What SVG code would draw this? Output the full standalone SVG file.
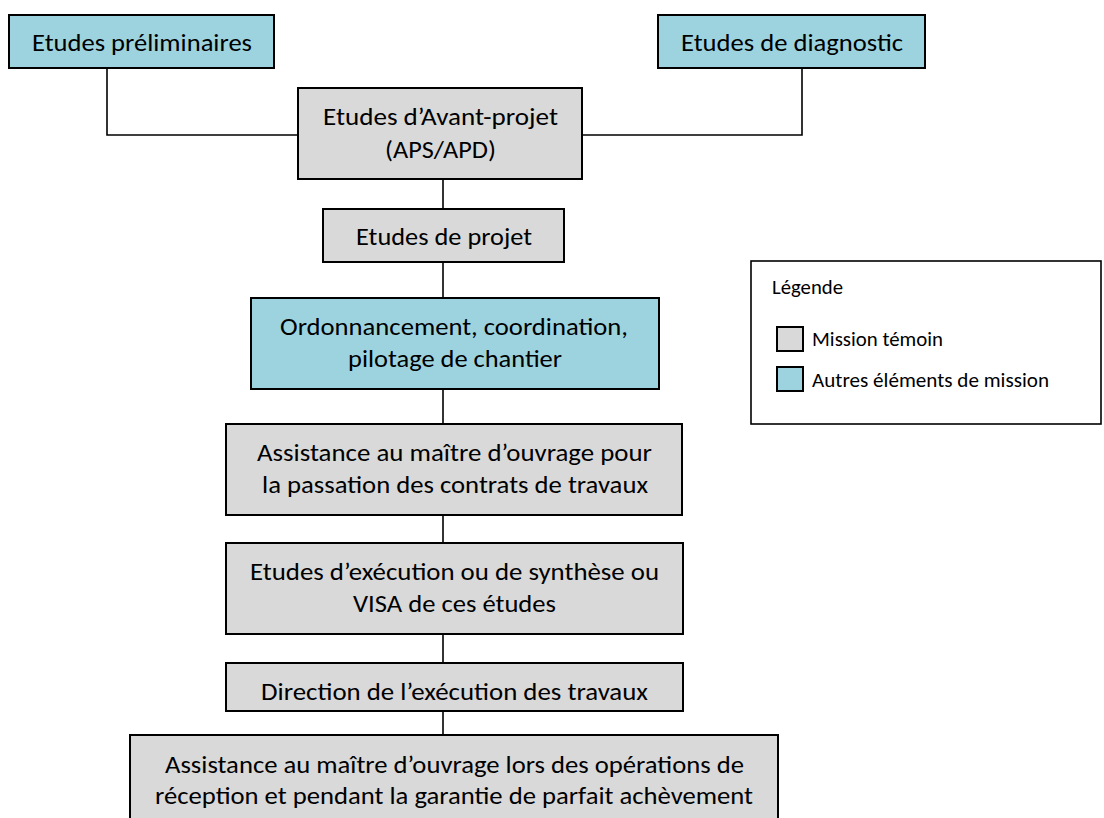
<svg xmlns="http://www.w3.org/2000/svg" width="1104" height="818" viewBox="0 0 1104 818">
<style>
.box{stroke:#000;stroke-width:2}
.gray{fill:#D9D9D9}
.blue{fill:#9DD3DF}
.t{font-family:Carlito,Lato,"Liberation Sans",sans-serif;font-size:25px;fill:#000;text-anchor:middle}
.lt{font-family:Carlito,Lato,"Liberation Sans",sans-serif;font-size:20px;fill:#000}
.conn{fill:none;stroke:#000;stroke-width:1.6}
</style>
<rect width="1104" height="818" fill="#fff"/>
<g id="connectors">
<polyline class="conn" points="107,68 107,135 298,135"/>
<polyline class="conn" points="802,68 802,135 582,135"/>
<line class="conn" x1="443" y1="179" x2="443" y2="209"/>
<line class="conn" x1="443" y1="262" x2="443" y2="298"/>
<line class="conn" x1="443" y1="389" x2="443" y2="424"/>
<line class="conn" x1="443" y1="515" x2="443" y2="543"/>
<line class="conn" x1="443" y1="634" x2="443" y2="663"/>
<line class="conn" x1="443" y1="711" x2="443" y2="735"/>
</g>
<g id="n-prelim">
<rect class="box blue" x="9" y="15" width="265" height="53"/>
<text class="t" x="142" y="51" textLength="220" lengthAdjust="spacingAndGlyphs">Etudes préliminaires</text>
</g>
<g id="n-diag">
<rect class="box blue" x="658" y="15" width="267" height="53"/>
<text class="t" x="792" y="51" textLength="222" lengthAdjust="spacingAndGlyphs">Etudes de diagnostic</text>
</g>
<g id="n-avant">
<rect class="box gray" x="298" y="88" width="284" height="91"/>
<text class="t" x="440.5" y="125" textLength="235" lengthAdjust="spacingAndGlyphs">Etudes d’Avant-projet</text>
<text class="t" x="440.5" y="158" textLength="111" lengthAdjust="spacingAndGlyphs">(APS/APD)</text>
</g>
<g id="n-projet">
<rect class="box gray" x="323" y="209" width="241" height="53"/>
<text class="t" x="444" y="245" textLength="176" lengthAdjust="spacingAndGlyphs">Etudes de projet</text>
</g>
<g id="n-ord">
<rect class="box blue" x="251" y="298" width="408" height="91"/>
<text class="t" x="454" y="335" textLength="348" lengthAdjust="spacingAndGlyphs">Ordonnancement, coordination,</text>
<text class="t" x="455" y="367" textLength="214" lengthAdjust="spacingAndGlyphs">pilotage de chantier</text>
</g>
<g id="n-assist">
<rect class="box gray" x="226" y="424" width="456" height="91"/>
<text class="t" x="454.5" y="461" textLength="395" lengthAdjust="spacingAndGlyphs">Assistance au maître d’ouvrage pour</text>
<text class="t" x="455" y="493" textLength="386" lengthAdjust="spacingAndGlyphs">la passation des contrats de travaux</text>
</g>
<g id="n-exec">
<rect class="box gray" x="226" y="543" width="457" height="91"/>
<text class="t" x="454.5" y="580" textLength="409" lengthAdjust="spacingAndGlyphs">Etudes d’exécution ou de synthèse ou</text>
<text class="t" x="454.5" y="612" textLength="203" lengthAdjust="spacingAndGlyphs">VISA de ces études</text>
</g>
<g id="n-direction">
<rect class="box gray" x="226" y="663" width="457" height="48"/>
<text class="t" x="454.5" y="700" textLength="387" lengthAdjust="spacingAndGlyphs">Direction de l’exécution des travaux</text>
</g>
<g id="n-reception">
<rect class="box gray" x="130" y="735" width="648" height="100"/>
<text class="t" x="454.5" y="773" textLength="579" lengthAdjust="spacingAndGlyphs">Assistance au maître d’ouvrage lors des opérations de</text>
<text class="t" x="454" y="804" textLength="598" lengthAdjust="spacingAndGlyphs">réception et pendant la garantie de parfait achèvement</text>
</g>
<g id="legend">
<rect x="751" y="261" width="350" height="163" fill="#fff" stroke="#000" stroke-width="1.6"/>
<text class="lt" x="772" y="294" textLength="71" lengthAdjust="spacingAndGlyphs">Légende</text>
<rect class="box gray" x="777" y="327" width="26" height="24" stroke-width="1.6"/>
<text class="lt" x="812" y="346" textLength="131" lengthAdjust="spacingAndGlyphs">Mission témoin</text>
<rect class="box blue" x="777" y="367" width="26" height="24" stroke-width="1.6"/>
<text class="lt" x="812" y="387" textLength="237" lengthAdjust="spacingAndGlyphs">Autres éléments de mission</text>
</g>
</svg>
